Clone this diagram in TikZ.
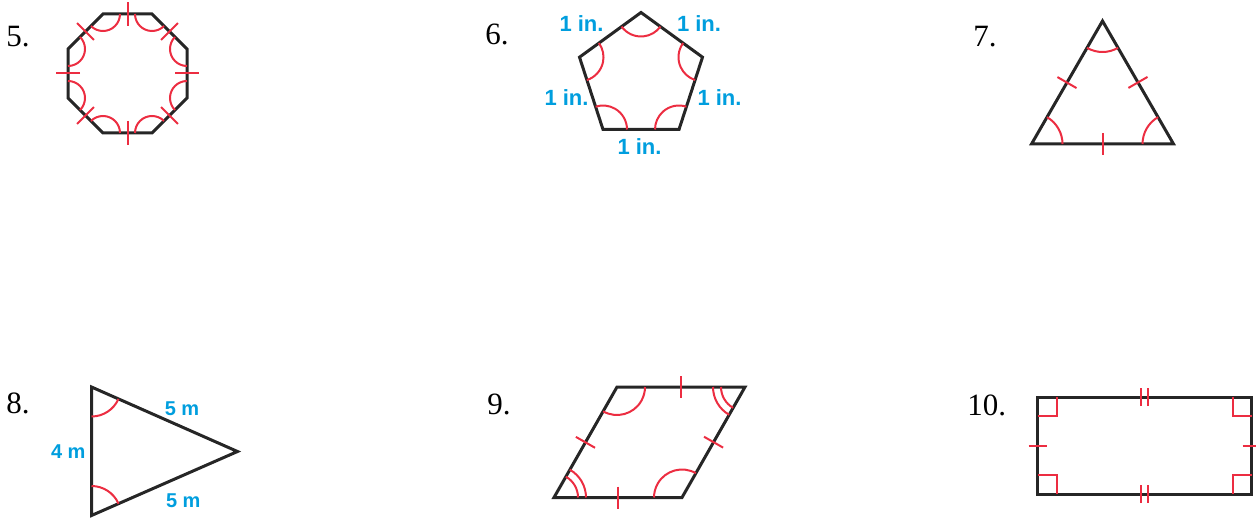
\documentclass[tikz,border=0pt]{standalone}
\usepackage{fontspec}
\setmainfont{Liberation Serif}
\setsansfont{Liberation Sans}
\usetikzlibrary{
    angles,
    decorations.markings
}
\definecolor{markred}{RGB}{236,45,65}
\definecolor{measblue}{RGB}{0,158,222}
\definecolor{figgray}{RGB}{38,38,38}
\tikzset{
    figline/.style={
        draw=figgray,
        line width=1.5pt,
        line join=miter
    },
    redline/.style={
        draw=markred,
        line width=1pt
    },
    hashmark/.style={
        postaction={decorate},
        decoration={markings,
            mark=at position 0.5 with {\draw[redline] (0pt,-#1) -- (0pt,#1);}}
    },
    doublehash/.style={
        postaction={decorate},
        decoration={markings,
            mark=at position 0.5 with {\draw[redline] (-1.75pt,-#1) -- (-1.75pt,#1) (1.75pt,-#1) -- (1.75pt,#1);}}
    },
    numlabel/.style={
        anchor=base west,
        inner sep=0pt,
        font=\fontsize{15.5}{18}\selectfont
    },
    measure/.style={
        anchor=base,
        inner sep=0pt,
        text=measblue,
        font=\sffamily\bfseries\fontsize{11}{13}\selectfont
    }
}

\begin{document}
\begin{tikzpicture}[
    x=0.5pt,
    y=0.5pt
]
    \useasboundingbox (0,0) rectangle (1256,-518);

    % Numeros
    \node[numlabel] (n5)  at (6,-46.5)    {5.};
    \node[numlabel] (n6)  at (485,-45)    {6.};
    \node[numlabel] (n7)  at (973,-46.5)  {7.};
    \node[numlabel] (n8)  at (6,-413.5)   {8.};
    \node[numlabel] (n9)  at (487,-414.5) {9.};
    \node[numlabel] (n10) at (967,-415)   {10.};

    % Figura 5: octagono
    \coordinate (o1) at (103,-14);
    \coordinate (o2) at (152,-14);
    \coordinate (o3) at (187,-49);
    \coordinate (o4) at (187,-98);
    \coordinate (o5) at (152,-133);
    \coordinate (o6) at (103,-133);
    \coordinate (o7) at (68,-98);
    \coordinate (o8) at (68,-49);
    \draw[figline] (o1) -- (o2) -- (o3) -- (o4) -- (o5) -- (o6) -- (o7) -- (o8) -- cycle;
    \foreach \p/\v/\n in {o8/o1/o2, o1/o2/o3, o2/o3/o4, o3/o4/o5, o4/o5/o6, o5/o6/o7, o6/o7/o8, o7/o8/o1}
        \pic[redline, angle radius=8.5pt] {angle=\p--\v--\n};
    \foreach \a/\b in {o1/o2, o2/o3, o3/o4, o4/o5, o5/o6, o6/o7, o7/o8, o8/o1}
        \path[hashmark=6pt] (\a) -- (\b);

    % Figura 6: pentagono
    \coordinate (p1) at (641,-12.5);
    \coordinate (p2) at (702.5,-57.2);
    \coordinate (p3) at (679,-129.5);
    \coordinate (p4) at (603,-129.5);
    \coordinate (p5) at (579.5,-57.2);
    \draw[figline] (p1) -- (p2) -- (p3) -- (p4) -- (p5) -- cycle;
    \foreach \p/\v/\n in {p5/p1/p2, p1/p2/p3, p2/p3/p4, p3/p4/p5, p4/p5/p1}
        \pic[redline, angle radius=12pt] {angle=\p--\v--\n};
    \node[measure] (s51) at (581.5,-31.5) {1 in.};
    \node[measure] (s12) at (699,-32)     {1 in.};
    \node[measure] (s45) at (566.5,-106)  {1 in.};
    \node[measure] (s23) at (719.5,-106)  {1 in.};
    \node[measure] (s34) at (639.5,-155)  {1 in.};

    % Figura 7: triangulo equilatero
    \coordinate (t1) at (1102.5,-21);
    \coordinate (t2) at (1173.5,-144);
    \coordinate (t3) at (1031.5,-144);
    \draw[figline] (t1) -- (t2) -- (t3) -- cycle;
    \foreach \p/\v/\n in {t3/t1/t2, t1/t2/t3, t2/t3/t1}
        \pic[redline, angle radius=15.5pt] {angle=\p--\v--\n};
    \foreach \a/\b in {t1/t2, t2/t3, t3/t1}
        \path[hashmark=5.5pt] (\a) -- (\b);

    % Figura 8: triangulo isosceles
    \coordinate (a) at (91.5,-387);
    \coordinate (b) at (237.5,-451.5);
    \coordinate (c) at (91.5,-515.5);
    \draw[figline] (a) -- (b) -- (c) -- cycle;
    \pic[redline, angle radius=14.75pt] {angle=c--a--b};
    \pic[redline, angle radius=14.75pt] {angle=b--c--a};
    \node[measure, font=\sffamily\bfseries\fontsize{10}{12}\selectfont] (ab) at (182,-415.5) {5 m};
    \node[measure, font=\sffamily\bfseries\fontsize{10}{12}\selectfont] (bc) at (183.3,-507) {5 m};
    \node[measure, font=\sffamily\bfseries\fontsize{10}{12}\selectfont] (ca) at (68.3,-458) {4 m};

    % Figura 9: rombo
    \coordinate (r1) at (617,-387);
    \coordinate (r2) at (745,-387);
    \coordinate (r3) at (682,-497.5);
    \coordinate (r4) at (554,-497.5);
    \draw[figline] (r1) -- (r2) -- (r3) -- (r4) -- cycle;
    \pic[redline, angle radius=14pt] {angle=r4--r1--r2};
    \pic[redline, angle radius=14pt] {angle=r2--r3--r4};
    \foreach \rad in {12pt, 16pt} {
        \pic[redline, angle radius=\rad] {angle=r1--r2--r3};
        \pic[redline, angle radius=\rad] {angle=r3--r4--r1};
    }
    \foreach \a/\b in {r1/r2, r2/r3, r3/r4, r4/r1}
        \path[hashmark=5.5pt] (\a) -- (\b);

    % Figura 10: rectangulo
    \coordinate (q1) at (1037.5,-397);
    \coordinate (q2) at (1251.5,-397);
    \coordinate (q3) at (1251.5,-494);
    \coordinate (q4) at (1037.5,-494);
    \draw[figline] (q1) -- (q2) -- (q3) -- (q4) -- cycle;
    \foreach \p/\v/\n in {q4/q1/q2, q1/q2/q3, q2/q3/q4, q3/q4/q1}
        \pic[redline, angle radius=9.5pt] {right angle=\p--\v--\n};
    \foreach \a/\b in {q1/q4, q2/q3}
        \path[hashmark=4.5pt] (\a) -- (\b);
    \foreach \a/\b in {q1/q2, q4/q3}
        \path[doublehash=4.5pt] (\a) -- (\b);

\end{tikzpicture}
\end{document}
